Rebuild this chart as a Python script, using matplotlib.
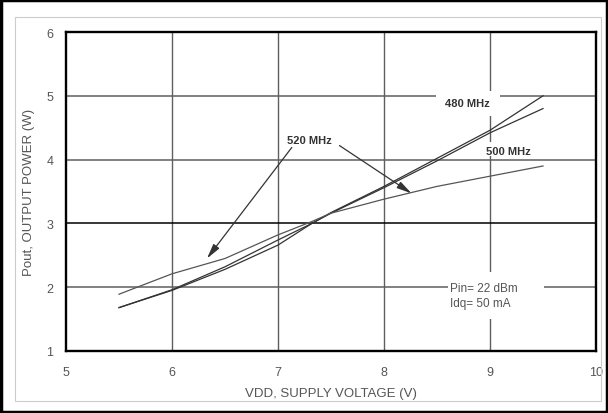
"""
Output power vs supply voltage, three frequencies.
"""
import matplotlib
matplotlib.use('Agg')
import matplotlib.pyplot as plt
from matplotlib.patches import Rectangle

plt.rcParams['font.family'] = ['Liberation Sans', 'DejaVu Sans']

# supply voltage (V)
vdd = [5.5, 6.0, 6.5, 7.0, 7.32, 7.5, 8.0, 8.5, 9.0, 9.5]
# output power (W) per frequency
pout_480 = [1.68, 1.95, 2.28, 2.66, 3.0, 3.17, 3.58, 4.02, 4.46, 5.0]
pout_500 = [1.68, 1.96, 2.32, 2.74, 3.0, 3.16, 3.56, 3.98, 4.42, 4.8]
pout_520 = [1.89, 2.21, 2.45, 2.82, 3.03, 3.16, 3.38, 3.58, 3.74, 3.9]

xticks = [5, 6, 7, 8, 9, 10]
yticks = [1, 2, 3, 4, 5, 6]

txtcol = '#555555'
gridcol = '#5e5e5e'

fig = plt.figure(figsize=(6.08, 4.14), dpi=100)

# outer black frame and inner grey frame
fig.patches.append(Rectangle((0.002, 0.003), 0.996, 0.994, transform=fig.transFigure,
                             fill=False, edgecolor='black', linewidth=2.5))
fig.patches.append(Rectangle((15 / 608, 1 - 402 / 414), 586 / 608, 384 / 414,
                             transform=fig.transFigure, fill=False,
                             edgecolor='#cccccc', linewidth=0.8))

ax = fig.add_axes([66 / 608, 1 - 352 / 414, 530 / 608, 319 / 414])
ax.set_xlim(5, 10)
ax.set_ylim(1, 6)
ax.set_xticks(xticks)
ax.set_yticks(yticks)
ax.tick_params(length=0, labelsize=9, labelcolor=txtcol)
ax.tick_params(axis='x', pad=11)
ax.tick_params(axis='y', pad=9)

for x in xticks[1:-1]:
    ax.axvline(x, color=gridcol, lw=1.0, zorder=1)
for y in yticks[1:-1]:
    c = 'black' if y == 3 else gridcol
    ax.axhline(y, color=c, lw=1.1, zorder=1)

for s in ax.spines.values():
    s.set_linewidth(1.7)
    s.set_color('black')
    s.set_zorder(5)

# white boxes behind the labels (they break the grid)
for (x0, y0, w, h) in [(8.49, 4.68, 0.60, 0.39), (8.91, 4.05, 0.56, 0.23),
                       (8.60, 1.50, 0.91, 0.74)]:
    ax.add_patch(Rectangle((x0, y0), w, h, facecolor='white', edgecolor='none', zorder=2))

ax.plot(vdd, pout_480, color='#333333', lw=0.9, zorder=3)
ax.plot(vdd, pout_500, color='#333333', lw=0.9, zorder=3)
ax.plot(vdd, pout_520, color='#555555', lw=0.9, zorder=3)

ax.text(8.79, 4.88, '480 MHz', fontsize=8, fontweight='bold', color='#333333',
        ha='center', va='center', zorder=4)
ax.text(9.17, 4.14, '500 MHz', fontsize=8, fontweight='bold', color='#333333',
        ha='center', va='center', zorder=4)
ax.text(7.30, 4.31, '520 MHz', fontsize=8, fontweight='bold', color='#333333',
        ha='center', va='center', zorder=4)
ax.text(8.62, 1.87, 'Pin= 22 dBm\nIdq= 50 mA', fontsize=8.5, color=txtcol,
        ha='left', va='center', linespacing=1.3, zorder=4)

arrow = dict(arrowstyle='-|>,head_length=0.9,head_width=0.22', color='#333333',
             lw=0.9, mutation_scale=10, shrinkA=0, shrinkB=0)
ax.annotate('', xy=(6.33, 2.45), xytext=(7.13, 4.19), arrowprops=arrow, zorder=4)
ax.annotate('', xy=(8.26, 3.47), xytext=(7.58, 4.22), arrowprops=arrow, zorder=4)

ax.set_xlabel('VDD, SUPPLY VOLTAGE (V)', fontsize=9.5, color=txtcol, labelpad=6)
ax.set_ylabel('Pout, OUTPUT POWER (W)', fontsize=9.5, color=txtcol, labelpad=8)

fig.savefig('out.png', dpi=100)
